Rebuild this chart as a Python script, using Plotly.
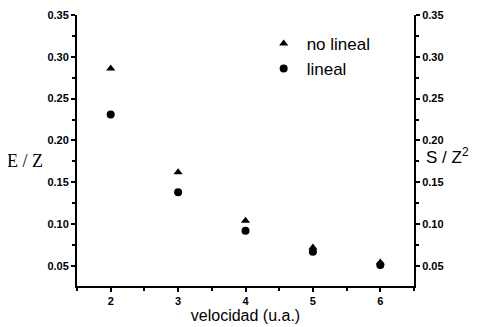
import plotly.graph_objects as go

velocidad = [2, 3, 4, 5, 6]
no_lineal = [0.286, 0.162, 0.104, 0.072, 0.054]
lineal = [0.231, 0.138, 0.092, 0.067, 0.051]

y_range = [0.026, 0.35]
x_range = [1.5, 6.5]

fig = go.Figure()
fig.add_trace(go.Scatter(x=velocidad, y=no_lineal, mode="markers", name="no lineal",
                         marker=dict(symbol="triangle-up", size=8, color="black")))
fig.add_trace(go.Scatter(x=velocidad, y=lineal, mode="markers", name="lineal",
                         marker=dict(symbol="circle", size=8, color="black")))
fig.add_trace(go.Scatter(x=[None], y=[None], yaxis="y2", showlegend=False, hoverinfo="skip"))

axis_common = dict(showgrid=False, zeroline=False, showline=True, linecolor="black",
                   linewidth=2, ticks="outside", ticklen=4, tickwidth=1.5, tickcolor="black",
                   automargin=False)
bold_tick = dict(family="Liberation Sans", size=11, color="black", weight="bold")

fig.update_layout(
    width=479, height=319,
    margin=dict(l=69, r=73, t=7, b=41),
    plot_bgcolor="white", paper_bgcolor="white",
    showlegend=True,
    legend=dict(x=0.545, y=0.96, xanchor="left", yanchor="top",
                font=dict(family="Liberation Sans", size=17, color="black"),
                bgcolor="rgba(0,0,0,0)", itemwidth=36, tracegroupgap=0),
    xaxis=dict(range=x_range, tickvals=velocidad, tickfont=bold_tick,
               minor=dict(dtick=0.5, tick0=0, ticks="outside", ticklen=3, tickcolor="black"),
               title=dict(text="velocidad (u.a.)", standoff=3,
                          font=dict(family="Liberation Sans", size=16, color="black")),
               **axis_common),
    yaxis=dict(range=y_range, tick0=0.05, dtick=0.05, tickformat=".2f", tickfont=bold_tick,
               minor=dict(dtick=0.025, tick0=0, ticks="outside", ticklen=3, tickcolor="black"),
               **axis_common),
    yaxis2=dict(range=y_range, tick0=0.05, dtick=0.05, tickformat=".2f", overlaying="y",
                side="right", tickfont=bold_tick,
                minor=dict(dtick=0.025, tick0=0, ticks="outside", ticklen=3, tickcolor="black"),
                **axis_common),
    annotations=[
        dict(text="E / Z", xref="paper", yref="paper", x=-0.155, y=0.46, showarrow=False,
             xanchor="center", yanchor="middle",
             font=dict(family="Liberation Serif", size=18, color="black")),
        dict(text="S / Z<sup>2</sup>", xref="paper", yref="paper", x=1.03, y=0.48,
             showarrow=False, xanchor="left", yanchor="middle",
             font=dict(family="Liberation Sans", size=17, color="black")),
    ],
)

fig.write_html("out.html")
